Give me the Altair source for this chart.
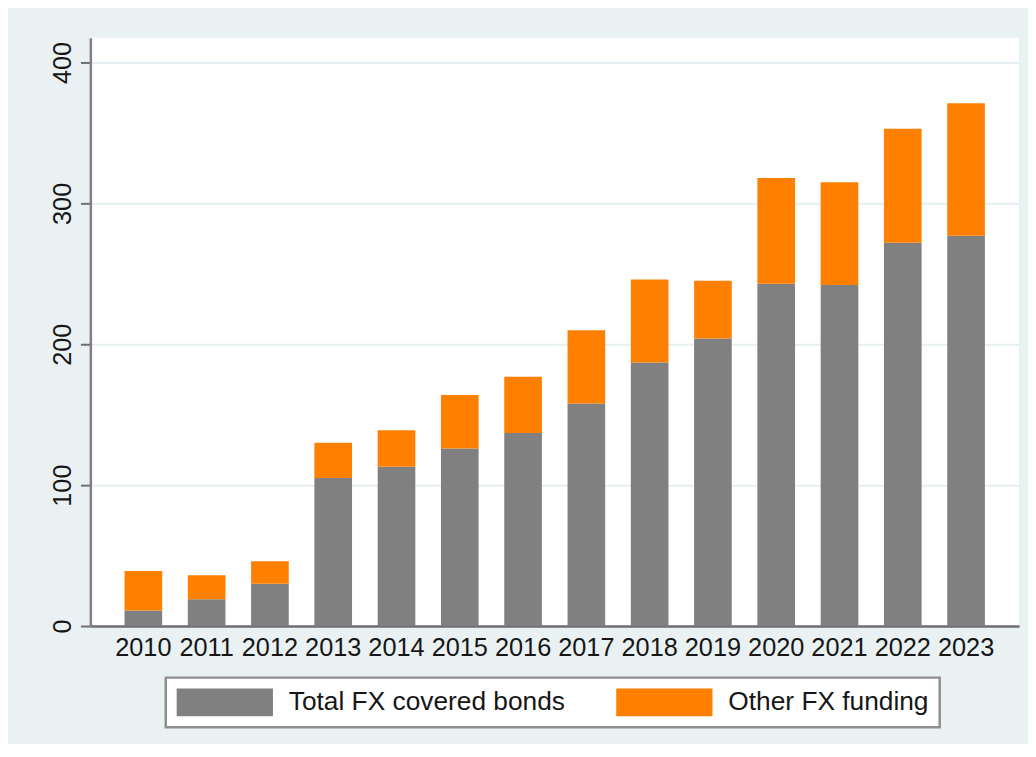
import altair as alt
import pandas as pd

years = [str(y) for y in range(2010, 2024)]
covered_bonds = [11, 19, 30, 105, 113, 126, 137, 158, 187, 204, 243, 242, 272, 277]
other_funding = [28, 17, 16, 25, 26, 38, 40, 52, 59, 41, 75, 73, 81, 94]
series = ["Total FX covered bonds", "Other FX funding"]
colors = ["#808080", "#FF8000"]
y_ticks = [0, 100, 200, 300, 400]

rows = []
for i, yr in enumerate(years):
    rows.append({"year": yr, "series": series[0], "value": covered_bonds[i], "ord": 0})
    rows.append({"year": yr, "series": series[1], "value": other_funding[i], "ord": 1})
df = pd.DataFrame(rows)

FONT = "Liberation Sans"

chart = alt.Chart(df).mark_bar().encode(
    x=alt.X("year:O", title=None,
            scale=alt.Scale(paddingInner=0.405, paddingOuter=0.54),
            axis=alt.Axis(labelAngle=0, tickSize=0, labelPadding=10,
                          labelFontSize=25.5, labelFont=FONT, labelColor="#161616",
                          domainColor="#6f6f6f", domainWidth=2.5, grid=False)),
    y=alt.Y("value:Q", stack="zero", title=None,
            scale=alt.Scale(domain=[0, 417.6], nice=False, zero=True),
            axis=alt.Axis(values=y_ticks, labelAngle=270, labelAlign="center",
                          labelBaseline="alphabetic", labelPadding=10, tickSize=10,
                          tickWidth=2, tickColor="#6f6f6f",
                          labelFontSize=25.5, labelFont=FONT, labelColor="#161616",
                          domainColor="#808080", domainWidth=2.5,
                          grid=True, gridColor="#E6EFF1", gridWidth=2)),
    color=alt.Color("series:N",
                    scale=alt.Scale(domain=series, range=colors),
                    legend=alt.Legend(title=None, orient="none", legendX=76, legendY=645,
                                      direction="horizontal", columns=2,
                                      symbolType="M-1,-1H5.93V1H-1Z",
                                      symbolSize=784, symbolStrokeWidth=0,
                                      labelFontSize=26.5, labelFont=FONT, labelColor="#161616",
                                      labelOffset=85, columnPadding=51, padding=11,
                                      strokeColor="#8f8f8f", fillColor="white",
                                      labelLimit=0)),
    order=alt.Order("ord:Q", sort="ascending"),
).properties(
    width=936,
    height=593,
    autosize=alt.AutoSizeParams(type="none"),
    padding={"left": 83, "top": 27, "right": 9, "bottom": 116},
).configure(
    background="#EAF1F3",
).configure_view(
    fill="white", stroke=None
).configure_legend(
    strokeWidth=2.5, cornerRadius=0
)

chart.save("out.html", embed_options={"renderer": "svg", "actions": False})
